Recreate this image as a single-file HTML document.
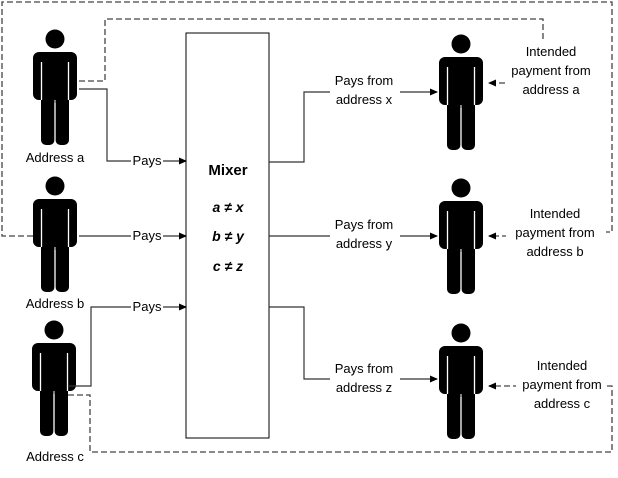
<!DOCTYPE html>
<html><head><meta charset="utf-8"><style>
body{margin:0;background:#fff}
svg text{font-family:"Liberation Sans",sans-serif;font-size:13px;fill:#000}
</style></head><body>
<svg width="618" height="473" viewBox="0 0 618 473" xmlns="http://www.w3.org/2000/svg">
<defs>
<g id="p">
<circle cx="0" cy="0" r="9.5" fill="#000"/>
<rect x="-22" y="13" width="44" height="48" rx="6" fill="#000"/>
<rect x="-14" y="50" width="13.5" height="56" rx="5" fill="#000"/>
<rect x="0.5" y="50" width="13.5" height="56" rx="5" fill="#000"/>
<line x1="-13.5" y1="23" x2="-13.5" y2="61" stroke="#fff" stroke-width="1.3"/>
<line x1="13.5" y1="23" x2="13.5" y2="61" stroke="#fff" stroke-width="1.3"/>
<rect x="-22" y="61" width="7.5" height="2" fill="#fff"/>
<rect x="14.5" y="61" width="7.5" height="2" fill="#fff"/>
<line x1="0" y1="64" x2="0" y2="106" stroke="#fff" stroke-width="1.3"/>
</g>
<marker id="ar" markerWidth="8" markerHeight="8" refX="7" refY="4" orient="auto" markerUnits="userSpaceOnUse"><path d="M0,0.5 L8,4 L0,7.5 Z" fill="#000"/></marker>
</defs>

<g fill="none" stroke="#444" stroke-width="1.3" stroke-dasharray="6,3">
<path d="M79,81 H105 V19 H543 V40"/>
<path d="M33,236 H2 V2 H612 V232 H606"/>
<path d="M68,395 H90 V452 H612 V386 H607"/>
<path d="M505,83 H489" marker-end="url(#ar)"/>
<path d="M508,236 H489" marker-end="url(#ar)"/>
<path d="M519,386 H489" marker-end="url(#ar)"/>
</g>

<use href="#p" x="55" y="39"/>
<use href="#p" x="55" y="186"/>
<use href="#p" x="54" y="330"/>
<use href="#p" x="461" y="44"/>
<use href="#p" x="461" y="188"/>
<use href="#p" x="461" y="333"/>

<rect x="186" y="33" width="83" height="405" fill="#fff" stroke="#000" stroke-width="1"/>
<text x="228" y="175" text-anchor="middle" style="font-size:15px;font-weight:bold">Mixer</text>
<text x="228" y="212" text-anchor="middle" style="font-size:14px;font-weight:bold;font-style:italic">a ≠ x</text>
<text x="228" y="241" text-anchor="middle" style="font-size:14px;font-weight:bold;font-style:italic">b ≠ y</text>
<text x="228" y="271" text-anchor="middle" style="font-size:14px;font-weight:bold;font-style:italic">c ≠ z</text>

<g fill="none" stroke="#333" stroke-width="1.2">
<path d="M79,89 H107 V161 H186" marker-end="url(#ar)"/>
<path d="M79,236 H186" marker-end="url(#ar)"/>
<path d="M68,386 H91 V307 H186" marker-end="url(#ar)"/>
<path d="M269,162 H304 V92 H437" marker-end="url(#ar)"/>
<path d="M269,236 H437" marker-end="url(#ar)"/>
<path d="M269,307 H304 V379 H437" marker-end="url(#ar)"/>
</g>

<g fill="#fff">
<rect x="131" y="152" width="32" height="16"/>
<rect x="131" y="228" width="32" height="16"/>
<rect x="131" y="298" width="32" height="16"/>
<rect x="330" y="71" width="70" height="36"/>
<rect x="330" y="216" width="70" height="36"/>
<rect x="330" y="358" width="70" height="36"/>
<rect x="506" y="40" width="92" height="56"/>
<rect x="506" y="203" width="100" height="56"/>
<rect x="516" y="356" width="90" height="56"/>
</g>
<g text-anchor="middle">
<text x="147" y="165">Pays</text>
<text x="147" y="240">Pays</text>
<text x="147" y="311">Pays</text>
<text x="364" y="85">Pays from</text>
<text x="364" y="104">address x</text>
<text x="364" y="229">Pays from</text>
<text x="364" y="248">address y</text>
<text x="364" y="373">Pays from</text>
<text x="364" y="392">address z</text>
<text x="551" y="56">Intended</text>
<text x="551" y="75">payment from</text>
<text x="551" y="94">address a</text>
<text x="555" y="218">Intended</text>
<text x="555" y="237">payment from</text>
<text x="555" y="256">address b</text>
<text x="562" y="370">Intended</text>
<text x="562" y="389">payment from</text>
<text x="562" y="408">address c</text>
<text x="55" y="162">Address a</text>
<text x="55" y="308">Address b</text>
<text x="55" y="461">Address c</text>
</g>
</svg>
</body></html>
